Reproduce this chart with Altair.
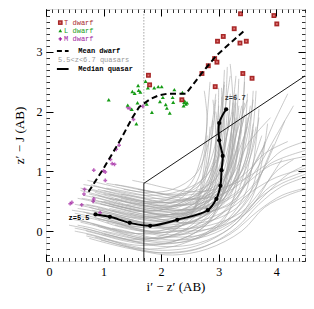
import altair as alt
import pandas as pd

# ---------------- data ----------------
X_DOMAIN = [0, 4.5]
Y_DOMAIN = [-0.5, 3.72]

# median quasar track (z = 5.5 ... 6.7)
MED_X = [0.86, 1.11, 1.455, 1.81, 2.28, 2.81, 2.96, 3.03, 3.05, 3.07, 3.01, 3.01, 3.13]
MED_Y = [0.28, 0.24, 0.14, 0.09, 0.19, 0.35, 0.54, 0.76, 1.02, 1.26, 1.52, 1.81, 2.04]
MED_LABELS = ["z=5.5", "z=6.7"]

# mean dwarf locus
DW_X = [0.74, 1.0, 1.3, 1.5, 1.62, 1.81, 1.95, 2.1, 2.43, 2.71, 2.96, 3.47]
DW_Y = [0.66, 1.05, 1.54, 1.9, 2.08, 2.21, 2.27, 2.3, 2.3, 2.65, 2.94, 3.38]

# T dwarfs
T_X = [3.38, 3.96, 4.01, 3.27, 3.08, 2.98, 3.37, 3.48, 2.93, 2.97, 2.82, 2.71, 3.42, 3.58, 2.94, 1.78, 1.80, 2.36]
T_Y = [3.64, 3.61, 3.47, 3.39, 3.26, 3.18, 3.15, 3.18, 2.89, 2.83, 2.77, 2.64, 2.64, 2.56, 2.42, 2.61, 2.45, 2.20]

# L dwarfs
L_X = [1.09, 1.60, 1.50, 1.54, 1.61, 1.64, 1.73, 1.77, 1.88, 1.95, 2.01, 2.23, 1.59, 1.42, 1.49,
       1.75, 1.98, 2.03, 2.20, 2.21, 2.08, 2.10, 2.15, 1.84, 1.57, 2.37, 2.40, 2.43, 2.41, 2.45, 2.39]
L_Y = [2.20, 2.44, 2.34, 2.31, 2.36, 2.33, 2.51, 2.40, 2.40, 2.42, 2.42, 2.37, 2.15, 2.11, 2.04,
       2.13, 2.17, 2.24, 2.24, 2.16, 2.12, 2.06, 1.98, 1.99, 1.80, 2.32, 2.16, 2.13, 2.18, 2.15, 2.10]

# M dwarfs
M_X = [1.42, 1.46, 1.68, 1.52, 1.27, 1.22, 1.12, 1.15, 1.19, 0.83, 1.00, 1.03, 1.03, 0.67, 0.66,
       0.83, 0.82, 0.42, 0.45, 0.62, 0.94]
M_Y = [2.07, 2.05, 2.09, 1.87, 1.44, 1.37, 1.20, 1.13, 1.12, 1.02, 1.01, 0.99, 0.85, 0.70, 0.62,
       0.54, 0.50, 0.46, 0.48, 0.44, 0.31]

# colour-cut boundary
CUT_X = [1.7, 1.7, 4.5]
CUT_Y = [-0.5, 0.8, 2.6]
DOT_X = [1.7, 1.7]
DOT_Y = [0.8, 3.72]

# simulated 5.5<z<6.7 quasar tracks
TRACKS_X = [
    [0.72, 0.95, 1.3, 1.7, 2.2, 2.6, 2.8, 2.9, 2.95],
    [0.78, 1.0, 1.4, 1.8, 2.3, 2.7, 2.9, 3.0, 3.1],
    [0.8, 1.05, 1.45, 1.85, 2.35, 2.8, 3.05, 3.15, 3.2],
    [0.85, 1.1, 1.5, 1.9, 2.4, 2.9, 3.2, 3.3, 3.35],
    [0.9, 1.15, 1.55, 1.95, 2.45, 2.95, 3.25, 3.35, 3.45],
    [0.62, 0.9, 1.3, 1.7, 2.2, 2.7, 2.95, 3.05, 3.05],
    [0.7, 0.95, 1.35, 1.75, 2.25, 2.75, 3.0, 3.1, 3.15],
    [0.75, 1.0, 1.4, 1.8, 2.3, 2.85, 3.1, 3.2, 3.3],
    [0.55, 0.85, 1.25, 1.65, 2.15, 2.6, 2.85, 2.95, 3.0],
    [0.5, 0.8, 1.2, 1.6, 2.1, 2.55, 2.75, 2.85, 2.9],
    [0.45, 0.75, 1.15, 1.55, 2.05, 2.5, 2.7, 2.8, 2.85],
    [0.4, 0.7, 1.1, 1.5, 2.0, 2.45, 2.65, 2.75, 2.8],
    [0.6, 0.9, 1.3, 1.75, 2.3, 2.9, 3.3, 3.5, 3.6],
    [0.65, 0.95, 1.4, 1.9, 2.5, 3.1, 3.5, 3.7, 3.8],
    [0.7, 1.0, 1.45, 1.95, 2.6, 3.2, 3.6, 3.9, 4.1],
    [0.85, 1.15, 1.6, 2.1, 2.7, 3.3, 3.7, 4.1, 4.5],
    [0.95, 1.25, 1.7, 2.2, 2.8, 3.4, 3.8, 4.2, 4.5],
    [1.0, 1.3, 1.7, 2.2, 2.7, 3.1, 3.3, 3.4, 3.5],
    [0.9, 1.2, 1.6, 2.0, 2.5, 2.9, 3.1, 3.2, 3.25],
    [0.95, 1.2, 1.6, 2.0, 2.5, 3.0, 3.3, 3.5, 3.6],
    [1.0, 1.25, 1.65, 2.05, 2.55, 3.05, 3.4, 3.6, 3.7],
    [1.05, 1.3, 1.7, 2.1, 2.6, 3.1, 3.5, 3.8, 4.2],
    [1.1, 1.35, 1.75, 2.15, 2.65, 3.15, 3.55, 3.9, 4.5],
    [1.15, 1.4, 1.8, 2.2, 2.7, 3.2, 3.6, 4.0, 4.5],
    [0.75, 1.0, 1.4, 1.8, 2.25, 2.6, 2.75, 2.8, 2.85],
    [0.85, 1.1, 1.5, 1.9, 2.35, 2.75, 2.95, 3.05, 3.2],
    [1.2, 1.45, 1.85, 2.25, 2.7, 3.1, 3.3, 3.4, 3.45],
    [1.3, 1.55, 1.95, 2.35, 2.8, 3.2, 3.45, 3.55, 3.6],
    [0.5, 0.8, 1.2, 1.65, 2.2, 2.75, 3.1, 3.3, 3.4],
    [0.55, 0.85, 1.25, 1.7, 2.25, 2.8, 3.15, 3.3, 3.45],
    [0.6, 0.85, 1.25, 1.65, 2.1, 2.5, 2.7, 2.8, 2.75],
    [0.8, 1.05, 1.45, 1.85, 2.3, 2.7, 2.9, 2.95, 2.9],
    [0.9, 1.15, 1.55, 2.0, 2.55, 3.1, 3.45, 3.6, 3.75],
    [1.05, 1.3, 1.7, 2.15, 2.7, 3.25, 3.6, 3.8, 3.95],
    [1.2, 1.45, 1.85, 2.3, 2.85, 3.4, 3.75, 4.0, 4.3],
    [0.65, 0.9, 1.3, 1.7, 2.2, 2.7, 3.0, 3.2, 3.3],
    [0.95, 1.2, 1.6, 2.0, 2.45, 2.85, 3.05, 3.1, 3.05],
    [1.0, 1.25, 1.65, 2.05, 2.5, 2.9, 3.15, 3.3, 3.5],
    [0.7, 0.95, 1.35, 1.8, 2.35, 2.9, 3.25, 3.4, 3.55],
    [0.85, 1.1, 1.5, 1.95, 2.5, 3.05, 3.4, 3.55, 3.65],
    [1.4, 1.65, 2.05, 2.45, 2.9, 3.3, 3.55, 3.65, 3.7],
    [1.5, 1.75, 2.1, 2.5, 2.95, 3.4, 3.8, 4.1, 4.5],
    [0.45, 0.75, 1.15, 1.6, 2.1, 2.6, 2.95, 3.1, 3.2],
    [0.55, 0.8, 1.2, 1.6, 2.1, 2.55, 2.8, 2.9, 2.95],
    [1.1, 1.35, 1.75, 2.15, 2.6, 3.0, 3.2, 3.25, 3.3],
    [1.3, 1.55, 1.95, 2.4, 2.9, 3.35, 3.7, 4.0, 4.3],
    [1.6, 1.85, 2.2, 2.6, 3.0, 3.4, 3.7, 3.95, 4.2],
    [0.6, 0.9, 1.3, 1.75, 2.3, 2.85, 3.25, 3.5, 3.9],
    [1.2, 1.45, 1.85, 2.3, 2.8, 3.3, 3.7, 4.1, 4.5],
    [0.75, 1.05, 1.5, 2.0, 2.6, 3.2, 3.7, 4.1, 4.5],
    [0.9, 1.15, 1.55, 1.95, 2.4, 2.8, 3.0, 3.1, 3.15],
    [1.0, 1.25, 1.65, 2.05, 2.5, 2.9, 3.1, 3.2, 3.3],
    [0.8, 1.05, 1.45, 1.9, 2.4, 2.85, 3.1, 3.25, 3.4],
    [1.25, 1.5, 1.9, 2.3, 2.75, 3.15, 3.35, 3.45, 3.5],
    [0.65, 0.9, 1.3, 1.75, 2.25, 2.7, 2.95, 3.05, 3.1],
    [1.1, 1.35, 1.75, 2.15, 2.6, 3.0, 3.2, 3.3, 3.35],
    [0.7, 0.95, 1.35, 1.8, 2.3, 2.8, 3.05, 3.2, 3.3],
    [1.35, 1.6, 2.0, 2.4, 2.85, 3.25, 3.5, 3.6, 3.65],
    [0.6, 0.85, 1.25, 1.7, 2.2, 2.65, 2.9, 3.0, 2.95],
    [0.95, 1.2, 1.6, 2.05, 2.55, 3.0, 3.25, 3.35, 3.45],
    [1.45, 1.7, 2.1, 2.5, 2.95, 3.35, 3.65, 3.85, 4.5],
    [0.5, 0.75, 1.15, 1.6, 2.15, 2.7, 3.0, 3.15, 3.2],
    [1.05, 1.3, 1.7, 2.1, 2.55, 2.95, 3.15, 3.25, 3.2],
    [0.8, 1.05, 1.45, 1.85, 2.3, 2.7, 2.9, 2.98, 3.0],
    [1.15, 1.4, 1.8, 2.25, 2.8, 3.3, 3.6, 3.75, 3.85],
    [0.55, 0.8, 1.2, 1.65, 2.2, 2.75, 3.1, 3.3, 3.5],
    [0.7, 0.95, 1.35, 1.8, 2.35, 2.9, 3.3, 3.55, 3.8],
    [1.0, 1.25, 1.65, 2.1, 2.65, 3.2, 3.6, 3.9, 4.5],
    [0.8, 1.05, 1.45, 1.9, 2.4, 2.9, 3.15, 3.25, 3.3],
    [1.2, 1.45, 1.85, 2.25, 2.7, 3.1, 3.35, 3.5, 3.6],
    [0.9, 1.15, 1.55, 2.0, 2.5, 3.0, 3.3, 3.45, 3.55],
    [0.65, 0.9, 1.3, 1.75, 2.25, 2.75, 3.05, 3.2, 3.25],
    [1.3, 1.55, 1.95, 2.4, 2.95, 3.45, 3.85, 4.2, 4.5],
    [0.6, 0.85, 1.25, 1.7, 2.2, 2.7, 2.95, 3.05, 3.1],
    [1.0, 1.25, 1.65, 2.05, 2.5, 2.95, 3.25, 3.4, 3.45],
    [0.5, 0.75, 1.15, 1.6, 2.1, 2.6, 2.9, 3.0, 3.05],
    [1.1, 1.35, 1.75, 2.2, 2.75, 3.3, 3.7, 3.95, 4.15],
]
TRACKS_Y = [
    [0.85, 0.8, 0.72, 0.65, 0.7, 0.95, 1.4, 1.9, 2.3],
    [0.78, 0.72, 0.62, 0.55, 0.6, 0.85, 1.3, 1.8, 2.5],
    [0.7, 0.64, 0.55, 0.48, 0.52, 0.7, 1.1, 1.7, 2.2],
    [0.65, 0.58, 0.46, 0.4, 0.45, 0.66, 1.05, 1.6, 2.1],
    [0.6, 0.52, 0.4, 0.33, 0.38, 0.6, 0.95, 1.5, 1.95],
    [0.55, 0.5, 0.4, 0.34, 0.4, 0.65, 1.1, 1.7, 2.4],
    [0.45, 0.4, 0.3, 0.24, 0.3, 0.5, 0.9, 1.5, 2.0],
    [0.4, 0.34, 0.24, 0.18, 0.24, 0.45, 0.85, 1.4, 1.85],
    [0.38, 0.33, 0.22, 0.15, 0.2, 0.42, 0.85, 1.45, 2.1],
    [0.3, 0.24, 0.14, 0.07, 0.12, 0.35, 0.8, 1.35, 1.85],
    [0.2, 0.14, 0.03, -0.04, 0.02, 0.25, 0.7, 1.25, 1.75],
    [0.1, 0.04, -0.07, -0.14, -0.08, 0.18, 0.6, 1.1, 1.6],
    [0.15, 0.08, -0.04, -0.12, -0.06, 0.18, 0.6, 1.2, 1.7],
    [0.05, -0.02, -0.14, -0.22, -0.15, 0.12, 0.55, 1.1, 1.5],
    [-0.05, -0.12, -0.24, -0.32, -0.25, 0.05, 0.45, 0.9, 1.2],
    [-0.1, -0.17, -0.3, -0.37, -0.28, 0.05, 0.45, 0.75, 0.9],
    [-0.15, -0.22, -0.34, -0.4, -0.3, 0.0, 0.4, 0.6, 0.7],
    [0.0, -0.06, -0.16, -0.2, -0.1, 0.2, 0.7, 1.3, 1.9],
    [0.2, 0.14, 0.04, -0.02, 0.05, 0.3, 0.75, 1.35, 2.0],
    [0.32, 0.27, 0.16, 0.1, 0.16, 0.4, 0.8, 1.3, 1.8],
    [0.5, 0.45, 0.35, 0.28, 0.32, 0.52, 0.9, 1.4, 1.9],
    [0.72, 0.68, 0.6, 0.52, 0.55, 0.72, 1.0, 1.3, 1.5],
    [0.55, 0.5, 0.42, 0.35, 0.38, 0.55, 0.85, 1.1, 1.25],
    [0.35, 0.3, 0.2, 0.14, 0.18, 0.38, 0.68, 0.9, 1.05],
    [0.62, 0.57, 0.48, 0.42, 0.5, 0.8, 1.3, 1.9, 2.5],
    [0.52, 0.46, 0.36, 0.3, 0.36, 0.6, 1.05, 1.65, 2.6],
    [0.78, 0.74, 0.66, 0.6, 0.65, 0.88, 1.3, 1.9, 2.5],
    [0.62, 0.58, 0.5, 0.44, 0.5, 0.72, 1.15, 1.75, 2.35],
    [0.0, -0.06, -0.17, -0.24, -0.18, 0.08, 0.55, 1.15, 1.7],
    [0.25, 0.2, 0.08, 0.0, 0.06, 0.3, 0.75, 1.35, 1.95],
    [0.68, 0.62, 0.52, 0.46, 0.52, 0.78, 1.25, 1.8, 2.35],
    [0.35, 0.3, 0.2, 0.13, 0.2, 0.45, 0.95, 1.6, 2.2],
    [0.08, 0.02, -0.1, -0.17, -0.1, 0.15, 0.6, 1.15, 1.6],
    [0.15, 0.1, 0.0, -0.06, 0.0, 0.25, 0.65, 1.1, 1.45],
    [0.25, 0.2, 0.1, 0.04, 0.1, 0.32, 0.7, 1.0, 1.2],
    [0.78, 0.74, 0.66, 0.6, 0.64, 0.85, 1.25, 1.85, 2.6],
    [0.45, 0.4, 0.3, 0.24, 0.3, 0.55, 1.0, 1.6, 2.25],
    [0.62, 0.57, 0.48, 0.42, 0.46, 0.66, 1.05, 1.6, 2.2],
    [0.3, 0.24, 0.12, 0.05, 0.1, 0.35, 0.8, 1.4, 2.0],
    [0.22, 0.17, 0.06, -0.02, 0.04, 0.28, 0.7, 1.25, 1.75],
    [0.45, 0.41, 0.33, 0.28, 0.34, 0.55, 0.95, 1.5, 2.05],
    [0.85, 0.8, 0.72, 0.66, 0.7, 0.85, 1.1, 1.35, 1.5],
    [0.35, 0.3, 0.18, 0.1, 0.15, 0.4, 0.85, 1.4, 1.9],
    [0.55, 0.5, 0.4, 0.33, 0.38, 0.62, 1.1, 1.7, 2.2],
    [0.38, 0.33, 0.24, 0.18, 0.24, 0.48, 0.95, 1.55, 2.15],
    [0.55, 0.5, 0.42, 0.36, 0.42, 0.65, 1.1, 1.6, 2.1],
    [0.7, 0.66, 0.58, 0.54, 0.6, 0.82, 1.25, 1.8, 2.3],
    [0.45, 0.4, 0.3, 0.22, 0.28, 0.52, 0.95, 1.45, 1.9],
    [0.1, 0.05, -0.05, -0.1, -0.04, 0.2, 0.55, 0.8, 0.95],
    [-0.12, -0.2, -0.3, -0.36, -0.3, -0.05, 0.35, 0.6, 0.72],
    [0.7, 0.64, 0.54, 0.47, 0.52, 0.75, 1.2, 1.85, 2.75],
    [0.28, 0.23, 0.13, 0.07, 0.13, 0.38, 0.85, 1.5, 2.3],
    [0.12, 0.06, -0.05, -0.12, -0.05, 0.2, 0.7, 1.35, 2.1],
    [0.42, 0.37, 0.28, 0.22, 0.28, 0.52, 1.0, 1.6, 2.3],
    [0.6, 0.55, 0.45, 0.38, 0.44, 0.7, 1.2, 1.8, 2.45],
    [0.62, 0.57, 0.48, 0.42, 0.47, 0.7, 1.15, 1.75, 2.55],
    [0.0, -0.06, -0.16, -0.22, -0.15, 0.12, 0.6, 1.2, 1.9],
    [0.7, 0.66, 0.58, 0.52, 0.58, 0.8, 1.2, 1.75, 2.35],
    [0.18, 0.12, 0.02, -0.05, 0.02, 0.3, 0.8, 1.4, 2.0],
    [0.5, 0.44, 0.34, 0.28, 0.33, 0.56, 1.0, 1.55, 2.15],
    [0.3, 0.26, 0.18, 0.13, 0.2, 0.42, 0.8, 1.1, 1.35],
    [0.45, 0.4, 0.3, 0.22, 0.28, 0.55, 1.05, 1.65, 2.3],
    [0.8, 0.76, 0.68, 0.62, 0.66, 0.88, 1.35, 2.0, 2.8],
    [0.58, 0.52, 0.42, 0.35, 0.4, 0.65, 1.1, 1.7, 2.4],
    [0.05, 0.0, -0.1, -0.15, -0.08, 0.18, 0.6, 1.15, 1.8],
    [0.1, 0.05, -0.06, -0.13, -0.07, 0.2, 0.65, 1.2, 1.75],
    [-0.08, -0.14, -0.25, -0.3, -0.22, 0.05, 0.5, 1.0, 1.45],
    [-0.05, -0.1, -0.2, -0.26, -0.2, 0.05, 0.45, 0.75, 1.0],
    [0.48, 0.43, 0.33, 0.27, 0.32, 0.55, 1.0, 1.6, 2.3],
    [0.55, 0.5, 0.41, 0.35, 0.4, 0.62, 1.05, 1.6, 2.2],
    [0.38, 0.33, 0.23, 0.16, 0.22, 0.46, 0.9, 1.5, 2.1],
    [0.32, 0.27, 0.17, 0.1, 0.16, 0.42, 0.9, 1.5, 2.15],
    [0.2, 0.15, 0.06, 0.0, 0.06, 0.28, 0.65, 0.95, 1.1],
    [0.72, 0.67, 0.58, 0.5, 0.55, 0.8, 1.3, 1.95, 2.7],
    [0.68, 0.63, 0.55, 0.48, 0.52, 0.74, 1.2, 1.85, 2.6],
    [0.05, 0.0, -0.1, -0.17, -0.1, 0.16, 0.65, 1.3, 1.95],
    [0.45, 0.4, 0.31, 0.25, 0.3, 0.5, 0.9, 1.4, 1.85],
]

LEGEND_ITEMS = ["T dwarf", "L dwarf", "M dwarf", "Mean dwarf", "5.5<z<6.7 quasars", "Median quasar"]

# ---------------- tables ----------------
tracks = pd.DataFrame(
    [{"track": t, "i": k, "x": xv, "y": yv}
     for t, (xs_, ys_) in enumerate(zip(TRACKS_X, TRACKS_Y))
     for k, (xv, yv) in enumerate(zip(xs_, ys_))]
)
median = pd.DataFrame({"i": range(len(MED_X)), "x": MED_X, "y": MED_Y})
med_lab = pd.DataFrame({"x": [MED_X[0], MED_X[-1]], "y": [MED_Y[0], MED_Y[-1]], "t": MED_LABELS})
dwarf = pd.DataFrame({"i": range(len(DW_X)), "x": DW_X, "y": DW_Y})
tdf = pd.DataFrame({"x": T_X, "y": T_Y})
ldf = pd.DataFrame({"x": L_X, "y": L_Y})
mdf = pd.DataFrame({"x": M_X, "y": M_Y})
cut = pd.DataFrame({"i": range(len(CUT_X)), "x": CUT_X, "y": CUT_Y})
dot = pd.DataFrame({"i": range(len(DOT_X)), "x": DOT_X, "y": DOT_Y})
one = pd.DataFrame({"a": [0]})

# ---------------- styling ----------------
XS = alt.Scale(domain=X_DOMAIN, nice=False, zero=False)
YS = alt.Scale(domain=Y_DOMAIN, nice=False, zero=False)
SERIF = "Liberation Serif"
MONO = "Liberation Mono"

X_MAJ = [0, 1, 2, 3, 4]
Y_MAJ = [0, 1, 2, 3]
X_MIN = [k / 10 for k in range(0, 46)]
Y_MIN = [k / 10 for k in range(-5, 38)]


def lab_axis(orient, values, title, **kw):
    return alt.Axis(orient=orient, values=values, ticks=False, domain=False, grid=False,
                    labelFont=SERIF, labelFontSize=12, labelColor="black",
                    title=title, titleFont=SERIF, titleFontSize=13, titleFontWeight="normal",
                    titleColor="black", **kw)


def tick_axis(orient, values, size, width):
    return alt.Axis(orient=orient, values=values, labels=False, domain=False, grid=False,
                    ticks=True, tickSize={"expr": str(-size)}, tickColor="black",
                    tickWidth=width, title=None, zindex=1)


def enc(ch, xaxis=None, yaxis=None, order=None, detail=None):
    kw = dict(x=alt.X("x:Q", scale=XS, axis=xaxis), y=alt.Y("y:Q", scale=YS, axis=yaxis))
    if order:
        kw["order"] = alt.Order(f"{order}:Q")
    if detail:
        kw["detail"] = alt.Detail(f"{detail}:N")
    return ch.encode(**kw)


x_lab = lab_axis("bottom", X_MAJ, "i′ − z′ (AB)", labelPadding=5, titlePadding=3)
y_lab = lab_axis("left", Y_MAJ, "z′ − J (AB)", labelPadding=4, titlePadding=10)

layers = []

# quasar tracks
layers.append(enc(alt.Chart(tracks).mark_line(color="#a4a4a4", strokeWidth=0.6, clip=True,
                                               interpolate="catmull-rom"),
                  x_lab, y_lab, order="i", detail="track"))
# cut lines
layers.append(enc(alt.Chart(dot).mark_line(color="#555555", strokeWidth=0.8, strokeDash=[1, 2], clip=True),
                  order="i"))
layers.append(enc(alt.Chart(cut).mark_line(color="black", strokeWidth=0.9, clip=True), order="i"))
# dwarfs
layers.append(enc(alt.Chart(mdf).mark_point(shape="cross", color="#a020a0", filled=True, size=14,
                                            clip=True),
                  tick_axis("top", X_MIN, 3.5, 0.8), tick_axis("right", Y_MIN, 3.5, 0.8)))
layers.append(enc(alt.Chart(ldf).mark_point(shape="triangle-up", color="#169c16", filled=True,
                                            size=16, opacity=1, clip=True)))
layers.append(enc(alt.Chart(tdf).mark_point(shape="square", color="#a82828", filled=True, size=24,
                                            opacity=1, clip=True),
                  tick_axis("top", X_MAJ, 7, 1), tick_axis("right", Y_MAJ, 7, 1)))
layers.append(enc(alt.Chart(tdf).mark_point(shape="cross", angle=45, color="#e07878", filled=True,
                                            size=5, opacity=1, clip=True)))
# mean dwarf
layers.append(enc(alt.Chart(dwarf).mark_line(color="black", strokeWidth=2, strokeDash=[6, 3.5],
                                             clip=True),
                  order="i"))
# median quasar
layers.append(enc(alt.Chart(median).mark_line(color="black", strokeWidth=2, interpolate="catmull-rom"),
                  tick_axis("bottom", X_MAJ, 7, 1), tick_axis("left", Y_MAJ, 7, 1), order="i"))
layers.append(enc(alt.Chart(median).mark_point(color="black", filled=True, size=18, opacity=1),
                  tick_axis("bottom", X_MIN, 3.5, 0.8), tick_axis("left", Y_MIN, 3.5, 0.8)))
layers.append(
    alt.Chart(med_lab).transform_filter("datum.t == 'z=5.5'").mark_text(
        font=MONO, fontSize=7, fontWeight="bold", align="right", baseline="middle", dx=-6, dy=4,
        color="black").encode(x=alt.X("x:Q", scale=XS, axis=None), y=alt.Y("y:Q", scale=YS, axis=None),
                              text="t:N"))
layers.append(
    alt.Chart(med_lab).transform_filter("datum.t == 'z=6.7'").mark_text(
        font=MONO, fontSize=7, fontWeight="bold", align="center", baseline="middle", dx=9, dy=-11,
        color="#333333").encode(x=alt.X("x:Q", scale=XS, axis=None), y=alt.Y("y:Q", scale=YS, axis=None),
                                text="t:N"))

# ---------------- legend (pixel placed) ----------------
leg_rows = [13.6, 21.6, 29.9, 42.0, 51.3, 60.0]
leg_cols = ["#a82828", "#169c16", "#a020a0", "black", "#9a9a9a", "black"]
leg_weight = ["normal", "normal", "normal", "bold", "normal", "bold"]
leg_textx = [18.1, 18.1, 18.1, 32.3, 11.9, 32.3]
base = alt.Chart(one)
layers.append(base.mark_point(shape="square", color="#a82828", filled=True, size=22, opacity=1)
              .encode(x=alt.value(14.3), y=alt.value(leg_rows[0])))
layers.append(base.mark_point(shape="cross", angle=45, color="#e07878", filled=True, size=5, opacity=1)
              .encode(x=alt.value(14.3), y=alt.value(leg_rows[0])))
layers.append(base.mark_point(shape="triangle-up", color="#169c16", filled=True, size=14, opacity=1)
              .encode(x=alt.value(14.3), y=alt.value(leg_rows[1])))
layers.append(base.mark_point(shape="cross", color="#a020a0", filled=True, size=12, opacity=1)
              .encode(x=alt.value(14.3), y=alt.value(leg_rows[2])))
layers.append(base.mark_rule(color="black", strokeWidth=2, strokeDash=[5, 3])
              .encode(x=alt.value(10.9), x2=alt.value(22.6), y=alt.value(leg_rows[3])))
layers.append(base.mark_rule(color="black", strokeWidth=2)
              .encode(x=alt.value(10.9), x2=alt.value(22.6), y=alt.value(leg_rows[5])))
for lbl, yy, cc, ww, xx in zip(LEGEND_ITEMS, leg_rows, leg_cols, leg_weight, leg_textx):
    layers.append(base.mark_text(text=lbl, font=MONO, fontSize=7, fontWeight=ww, color=cc,
                                 align="left", baseline="middle")
                  .encode(x=alt.value(xx), y=alt.value(yy)))

chart = (
    alt.layer(*layers)
    .resolve_axis(x="independent", y="independent")
    .properties(width=259, height=252, autosize="none",
                padding={"left": 38, "top": 1, "right": 1, "bottom": 35})
    .configure_view(stroke="black", strokeWidth=1)
    .configure(background="white")
)

chart.save("out.html", embed_options={"renderer": "svg", "actions": False})
